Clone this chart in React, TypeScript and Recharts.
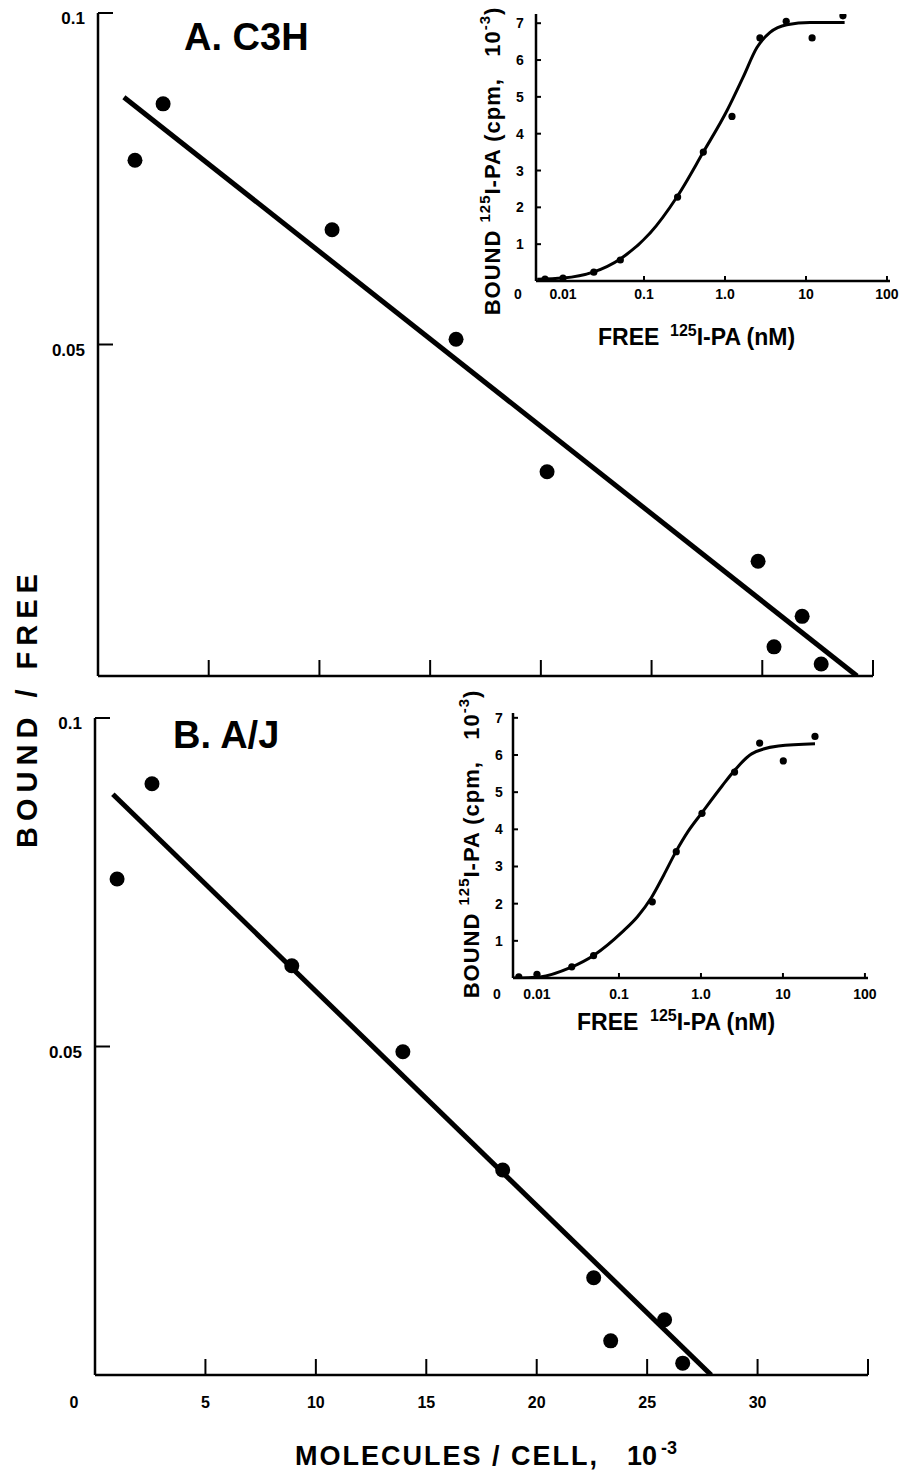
import React from 'react';
import { ComposedChart, Scatter, Line, XAxis, YAxis } from 'recharts';

const FONT = '"Liberation Sans", Arial, Helvetica, sans-serif';
const INK = '#000';

// Scatchard plot A (C3H): molecules/cell x10^-3 vs bound/free
const c3hPoints = [
  { x: 1.67, y: 0.0778 },
  { x: 2.94, y: 0.0863 },
  { x: 10.57, y: 0.0673 },
  { x: 16.17, y: 0.0508 },
  { x: 20.28, y: 0.0308 },
  { x: 29.81, y: 0.0173 },
  { x: 31.8, y: 0.009 },
  { x: 30.53, y: 0.0044 },
  { x: 32.66, y: 0.0018 },
];
const c3hFit = [
  { x: 1.17, y: 0.0873 },
  { x: 34.28, y: 0 },
];

// Scatchard plot B (A/J)
const ajPoints = [
  { x: 1.0, y: 0.0755 },
  { x: 2.58, y: 0.09 },
  { x: 8.91, y: 0.0623 },
  { x: 13.94, y: 0.0492 },
  { x: 18.46, y: 0.0312 },
  { x: 22.58, y: 0.0148 },
  { x: 25.79, y: 0.0084 },
  { x: 23.35, y: 0.0052 },
  { x: 26.61, y: 0.0018 },
];
const ajFit = [
  { x: 0.81, y: 0.0884 },
  { x: 27.9, y: 0 },
];

// insets: free 125I-PA (nM) vs bound (cpm x10^-3)
const c3hSatPoints = [
  { x: 0.006, y: 0.05 },
  { x: 0.01, y: 0.08 },
  { x: 0.024, y: 0.24 },
  { x: 0.051, y: 0.57 },
  { x: 0.26, y: 2.28 },
  { x: 0.54, y: 3.5 },
  { x: 1.22, y: 4.47 },
  { x: 2.7, y: 6.6 },
  { x: 5.7, y: 7.05 },
  { x: 11.9, y: 6.6 },
  { x: 28.6, y: 7.2 },
];
const c3hSatCurve = [
  { x: 0.0048, y: 0.05 },
  { x: 0.01, y: 0.08 },
  { x: 0.0235, y: 0.24 },
  { x: 0.051, y: 0.6 },
  { x: 0.119, y: 1.3 },
  { x: 0.255, y: 2.28 },
  { x: 0.54, y: 3.5 },
  { x: 1.06, y: 4.63 },
  { x: 1.67, y: 5.53 },
  { x: 2.48, y: 6.34 },
  { x: 3.6, y: 6.75 },
  { x: 5.8, y: 6.96 },
  { x: 11.2, y: 7.02 },
  { x: 30, y: 7.02 },
];

const ajSatPoints = [
  { x: 0.006, y: 0.03 },
  { x: 0.01, y: 0.1 },
  { x: 0.0266, y: 0.3 },
  { x: 0.049, y: 0.6 },
  { x: 0.255, y: 2.05 },
  { x: 0.5, y: 3.4 },
  { x: 1.03, y: 4.43 },
  { x: 2.57, y: 5.54 },
  { x: 5.2, y: 6.32 },
  { x: 10.1, y: 5.84 },
  { x: 24.6, y: 6.5 },
];
const ajSatCurve = [
  { x: 0.0051, y: 0 },
  { x: 0.0109, y: 0.03 },
  { x: 0.025, y: 0.27 },
  { x: 0.05, y: 0.62 },
  { x: 0.11, y: 1.24 },
  { x: 0.17, y: 1.66 },
  { x: 0.248, y: 2.16 },
  { x: 0.35, y: 2.76 },
  { x: 0.49, y: 3.38 },
  { x: 0.7, y: 3.95 },
  { x: 1.03, y: 4.45 },
  { x: 1.8, y: 5.16 },
  { x: 2.65, y: 5.62 },
  { x: 4.15, y: 6.03 },
  { x: 8.8, y: 6.24 },
  { x: 24.6, y: 6.3 },
];

const moleculeTicks = [0, 5, 10, 15, 20, 25, 30, 35];
const ratioTicks = [0.05, 0.1];
const freeTicks = [0.01, 0.1, 1, 10, 100];
const freeTickLabels = ['0.01', '0.1', '1.0', '10', '100'];
const boundTicks = [0, 1, 2, 3, 4, 5, 6, 7];

const bold = { fontFamily: FONT, fontWeight: 700, fill: INK } as const;

const bigDot = (p: any) => <circle cx={p.cx} cy={p.cy} r={7.5} fill={INK} />;
const smallDot = (p: any) => <circle cx={p.cx} cy={p.cy} r={3.6} fill={INK} />;

// ticks point inward here, so they are drawn by hand
const moleculeTick = (showLabels: boolean) => (p: any) => {
  const v = p.payload.value;
  return (
    <g>
      {v !== 0 && <line x1={p.x} x2={p.x} y1={p.y} y2={p.y - 16} stroke={INK} strokeWidth={2} />}
      {showLabels && v !== 35 && (
        <text x={v === 0 ? p.x - 21 : p.x} y={p.y + 33} textAnchor="middle" fontSize={16} {...bold}>
          {v}
        </text>
      )}
    </g>
  );
};

const ratioTick = (p: any) => (
  <g>
    <line x1={p.x} x2={p.x + 15} y1={p.y} y2={p.y} stroke={INK} strokeWidth={2} />
    <text x={p.x - 13} y={p.y + 11} textAnchor="end" fontSize={17} {...bold}>
      {p.payload.value}
    </text>
  </g>
);

const freeTick = (labelDy: number) => (p: any) => {
  const i = freeTicks.indexOf(p.payload.value);
  return (
    <g>
      <line x1={p.x} x2={p.x} y1={p.y} y2={p.y - 5} stroke={INK} strokeWidth={2} />
      <text x={p.x} y={p.y + labelDy} textAnchor="middle" fontSize={14} {...bold}>
        {freeTickLabels[i]}
      </text>
    </g>
  );
};

const boundTick = (labelDx: number, zeroDy: number) => (p: any) => {
  const v = p.payload.value;
  if (v === 0) {
    return (
      <text x={p.x + labelDx - 2} y={p.y + zeroDy} textAnchor="middle" fontSize={14} {...bold}>
        0
      </text>
    );
  }
  return (
    <g>
      <line x1={p.x} x2={p.x + 5} y1={p.y} y2={p.y} stroke={INK} strokeWidth={2} />
      <text x={p.x + labelDx} y={p.y + 5} textAnchor="middle" fontSize={14} {...bold}>
        {v}
      </text>
    </g>
  );
};

function Scatchard({ points, fit, width, height, margin, yAxisWidth, xAxisHeight, showLabels }: any) {
  return (
    <ComposedChart width={width} height={height} margin={margin}>
      <XAxis
        type="number"
        dataKey="x"
        domain={[0, 35]}
        ticks={moleculeTicks}
        interval={0}
        height={xAxisHeight}
        tickSize={0}
        tickMargin={0}
        tickLine={false}
        axisLine={{ stroke: INK, strokeWidth: 2.5 }}
        tick={moleculeTick(showLabels)}
        allowDataOverflow
      />
      <YAxis
        type="number"
        dataKey="y"
        domain={[0, 0.1]}
        ticks={ratioTicks}
        interval={0}
        width={yAxisWidth}
        tickSize={0}
        tickMargin={0}
        tickLine={false}
        axisLine={{ stroke: INK, strokeWidth: 2.5 }}
        tick={ratioTick}
        allowDataOverflow
      />
      <Line data={fit} dataKey="y" type="linear" stroke={INK} strokeWidth={5} dot={false} activeDot={false} isAnimationActive={false} />
      <Scatter data={points} fill={INK} shape={bigDot} isAnimationActive={false} />
    </ComposedChart>
  );
}

function Saturation({ points, curve, width, height, margin, yAxisWidth, xAxisHeight, xDomain, yMax, xLabelDy, yLabelDx, zeroDy }: any) {
  return (
    <ComposedChart width={width} height={height} margin={margin}>
      <XAxis
        type="number"
        scale="log"
        dataKey="x"
        domain={xDomain}
        ticks={freeTicks}
        interval={0}
        height={xAxisHeight}
        tickSize={0}
        tickMargin={0}
        tickLine={false}
        axisLine={{ stroke: INK, strokeWidth: 2.5 }}
        tick={freeTick(xLabelDy)}
        allowDataOverflow
      />
      <YAxis
        type="number"
        dataKey="y"
        domain={[0, yMax]}
        ticks={boundTicks}
        interval={0}
        width={yAxisWidth}
        tickSize={0}
        tickMargin={0}
        tickLine={false}
        axisLine={{ stroke: INK, strokeWidth: 2.5 }}
        tick={boundTick(yLabelDx, zeroDy)}
        allowDataOverflow
      />
      <Line data={curve} dataKey="y" type="monotone" stroke={INK} strokeWidth={3} dot={false} activeDot={false} isAnimationActive={false} />
      <Scatter data={points} fill={INK} shape={smallDot} isAnimationActive={false} />
    </ComposedChart>
  );
}

const abs = (left: number, top: number): React.CSSProperties => ({ position: 'absolute', left, top });

function BoundLabel({ cx, cy }: { cx: number; cy: number }) {
  return (
    <text
      transform={`translate(${cx},${cy}) rotate(-90)`}
      textAnchor="middle"
      dominantBaseline="central"
      fontSize={22}
      letterSpacing={1}
      {...bold}
    >
      BOUND <tspan dy={-8} fontSize={15}>125</tspan>
      <tspan dy={8}>I-PA (cpm,{'\u00a0\u00a0\u00a0'}10</tspan>
      <tspan dy={-8} fontSize={15}>-3</tspan>
      <tspan dy={8}>)</tspan>
    </text>
  );
}

function FreeLabel({ x, supX, y }: { x: number; supX: number; y: number }) {
  return (
    <text x={x} y={y} fontSize={23} {...bold}>
      FREE
      <tspan x={supX} dy={-9} fontSize={16}>125</tspan>
      <tspan dy={9}>I-PA (nM)</tspan>
    </text>
  );
}

export default function App() {
  return (
    <div style={{ position: 'absolute', left: 0, top: 0, width: 899, height: 1473, background: '#fff', overflow: 'hidden' }}>
      <div style={abs(0, 0)}>
        <Scatchard
          points={c3hPoints}
          fit={c3hFit}
          width={899}
          height={700}
          margin={{ top: 13, right: 26, bottom: 0, left: 0 }}
          yAxisWidth={98}
          xAxisHeight={24}
          showLabels={false}
        />
      </div>
      <div style={abs(0, 700)}>
        <Scatchard
          points={ajPoints}
          fit={ajFit}
          width={899}
          height={773}
          margin={{ top: 18, right: 31, bottom: 0, left: 0 }}
          yAxisWidth={95}
          xAxisHeight={98}
          showLabels
        />
      </div>
      <div style={abs(450, 0)}>
        <Saturation
          points={c3hSatPoints}
          curve={c3hSatCurve}
          width={449}
          height={360}
          margin={{ top: 14, right: 9, bottom: 0, left: 0 }}
          yAxisWidth={86}
          xAxisHeight={79}
          xDomain={[0.00464, 109]}
          yMax={7.25}
          xLabelDy={18}
          yLabelDx={-16}
          zeroDy={18}
        />
      </div>
      <div style={abs(430, 680)}>
        <Saturation
          points={ajSatPoints}
          curve={ajSatCurve}
          width={469}
          height={360}
          margin={{ top: 33, right: 31, bottom: 0, left: 0 }}
          yAxisWidth={83}
          xAxisHeight={62}
          xDomain={[0.0051, 109]}
          yMax={7.13}
          xLabelDy={21}
          yLabelDx={-14}
          zeroDy={21}
        />
      </div>

      <svg width={899} height={1473} style={{ position: 'absolute', left: 0, top: 0, pointerEvents: 'none' }}>
        <text x={184} y={50} fontSize={38} {...bold}>A. C3H</text>
        <text x={173} y={748} fontSize={38} {...bold}>B. A/J</text>

        <text
          transform="translate(27,708) rotate(-90)"
          textAnchor="middle"
          dominantBaseline="central"
          fontSize={29}
          letterSpacing={6}
          {...bold}
        >
          BOUND / FREE
        </text>

        <text x={295} y={1465} fontSize={27} letterSpacing={2} {...bold}>
          MOLECULES / CELL,
          <tspan x={627} letterSpacing={0}>10</tspan>
          <tspan x={661} dy={-11} fontSize={18} letterSpacing={0}>-3</tspan>
        </text>

        <BoundLabel cx={492} cy={161} />
        <FreeLabel x={598} supX={670} y={345} />

        <BoundLabel cx={471} cy={844} />
        <FreeLabel x={577} supX={650} y={1030} />
      </svg>
    </div>
  );
}
